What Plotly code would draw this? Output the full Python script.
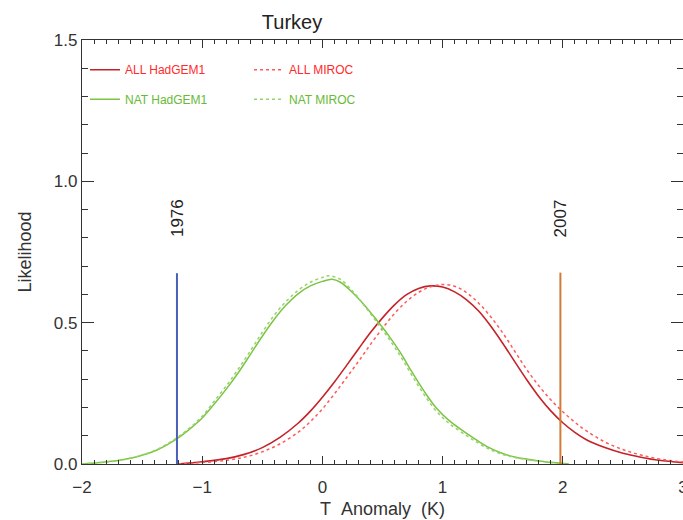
import plotly.graph_objects as go

# ---------------- data ----------------
nat_had_x = [-2.0, -1.85, -1.7, -1.6, -1.5, -1.4, -1.3, -1.2, -1.1, -1.0, -0.9, -0.8, -0.7, -0.6, -0.5, -0.4,
             -0.3, -0.2, -0.1, 0.0, 0.08, 0.15, 0.25, 0.35, 0.45, 0.55, 0.65, 0.75, 0.85, 0.95, 1.05,
             1.2, 1.3, 1.4, 1.5, 1.6, 1.8, 1.95, 2.05]
nat_had_y = [0.0, 0.005, 0.012, 0.02, 0.031, 0.045, 0.066, 0.092, 0.125, 0.163, 0.212, 0.265, 0.323, 0.387, 0.452,
             0.512, 0.563, 0.603, 0.63, 0.646, 0.654, 0.643, 0.607, 0.562, 0.51, 0.455, 0.393, 0.322, 0.255, 0.197,
             0.155, 0.108, 0.08, 0.055, 0.037, 0.025, 0.011, 0.004, 0.0]

nat_miroc_x = [-2.0, -1.85, -1.7, -1.6, -1.5, -1.4, -1.3, -1.2, -1.1, -1.0, -0.9, -0.8, -0.7, -0.6, -0.5, -0.4,
               -0.3, -0.2, -0.1, 0.0, 0.05, 0.15, 0.25, 0.35, 0.45, 0.55, 0.65, 0.75, 0.85, 0.95, 1.05,
               1.2, 1.3, 1.4, 1.5, 1.6, 1.8, 1.95, 2.05]
nat_miroc_y = [0.0, 0.005, 0.012, 0.02, 0.032, 0.047, 0.069, 0.096, 0.129, 0.169, 0.222, 0.276, 0.336, 0.4, 0.466,
               0.527, 0.576, 0.615, 0.643, 0.66, 0.666, 0.653, 0.612, 0.56, 0.503, 0.445, 0.381, 0.31, 0.243, 0.186,
               0.145, 0.1, 0.073, 0.05, 0.034, 0.023, 0.01, 0.003, 0.0]

all_had_x = [-1.2, -1.0, -0.8, -0.65, -0.5, -0.35, -0.2, -0.1, 0.0, 0.1, 0.2, 0.3, 0.4, 0.5, 0.6, 0.7, 0.8,
             0.9, 1.0, 1.1, 1.2, 1.3, 1.4, 1.5, 1.6, 1.7, 1.8, 1.9, 2.0, 2.1, 2.2, 2.35, 2.5, 2.65, 2.8, 3.0]
all_had_y = [0.0, 0.008, 0.019, 0.034, 0.058, 0.095, 0.145, 0.187, 0.236, 0.29, 0.348, 0.407, 0.465, 0.517, 0.563,
             0.599, 0.621, 0.63, 0.626, 0.609, 0.581, 0.541, 0.488, 0.427, 0.362, 0.298, 0.239, 0.188, 0.146, 0.112,
             0.085, 0.058, 0.038, 0.024, 0.013, 0.005]

all_miroc_x = [-1.2, -1.0, -0.8, -0.65, -0.5, -0.35, -0.2, -0.1, 0.0, 0.1, 0.2, 0.3, 0.4, 0.5, 0.6, 0.7, 0.8,
               0.9, 1.0, 1.1, 1.2, 1.3, 1.4, 1.5, 1.6, 1.7, 1.8, 1.9, 2.0, 2.1, 2.2, 2.35, 2.5, 2.65, 2.8, 3.0]
all_miroc_y = [0.0, 0.005, 0.013, 0.024, 0.043, 0.072, 0.113, 0.15, 0.195, 0.248, 0.305, 0.363, 0.423, 0.48, 0.532,
               0.575, 0.607, 0.627, 0.635, 0.629, 0.606, 0.569, 0.521, 0.464, 0.399, 0.334, 0.277, 0.227, 0.185, 0.148,
               0.116, 0.078, 0.051, 0.032, 0.018, 0.007]

event_years = ["1976", "2007"]
event_x = [-1.21, 1.98]
event_top = [0.675, 0.677]
event_colors = ["#4a5fb8", "#d27a38"]

x_ticks = [-2, -1, 0, 1, 2, 3]
y_ticks = [0.0, 0.5, 1.0, 1.5]
y_tick_labels = ["0.0", "0.5", "1.0", "1.5"]

# ---------------- figure ----------------
GREEN = "#7cc444"
RED_SOLID = "#c42228"
RED_DOT = "#ff5a5a"
AXIS = "#333333"
FONT = "Liberation Sans, Arial, sans-serif"

fig = go.Figure()

fig.add_trace(go.Scatter(x=all_had_x, y=all_had_y, mode="lines", line=dict(color=RED_SOLID, width=1.6, shape="spline"),
                         name="<span style='color:#ff2a2a'>ALL HadGEM1</span>", legend="legend"))
fig.add_trace(go.Scatter(x=all_miroc_x, y=all_miroc_y, mode="lines",
                         line=dict(color=RED_DOT, width=1.5, dash="dot", shape="spline"),
                         name="<span style='color:#ff2a2a'>ALL MIROC</span>", legend="legend"))
fig.add_trace(go.Scatter(x=nat_had_x, y=nat_had_y, mode="lines", line=dict(color=GREEN, width=1.5, shape="spline"),
                         name="<span style='color:#66bb33'>NAT HadGEM1</span>", legend="legend2"))
fig.add_trace(go.Scatter(x=nat_miroc_x, y=nat_miroc_y, mode="lines",
                         line=dict(color="#94d468", width=1.5, dash="dot", shape="spline"),
                         name="<span style='color:#66bb33'>NAT MIROC</span>", legend="legend2"))

for yr, ex, top, col in zip(event_years, event_x, event_top, event_colors):
    fig.add_trace(go.Scatter(x=[ex, ex], y=[0, top], mode="lines", line=dict(color=col, width=2),
                             showlegend=False, hoverinfo="skip"))
    fig.add_annotation(x=ex, y=0.87, xref="x", yref="y", text=yr, textangle=-90, showarrow=False,
                       font=dict(family=FONT, size=17, color="#222222"), xanchor="center", yanchor="middle")

legend_common = dict(orientation="h", bgcolor="rgba(0,0,0,0)", borderwidth=0,
                     font=dict(family=FONT, size=12), entrywidth=119, entrywidthmode="pixels",
                     xanchor="left", yanchor="middle", itemwidth=30, tracegroupgap=0)

fig.update_layout(
    width=683, height=520,
    margin=dict(l=82, r=0, t=40, b=56, autoexpand=False),
    paper_bgcolor="white", plot_bgcolor="white",
    font=dict(family=FONT, color=AXIS),
    title=dict(text="Turkey", x=292 / 683, xanchor="center", xref="container",
               y=1 - 22 / 520, yanchor="middle", yref="container",
               font=dict(family=FONT, size=20, color="#222222")),
    legend=dict(**legend_common, x=0.005, y=0.93),
    legend2=dict(**legend_common, x=0.005, y=0.86),
    xaxis=dict(range=[-2, 3], tickvals=x_ticks, ticks="inside", ticklen=8, tickwidth=1, tickcolor=AXIS,
               minor=dict(dtick=0.1, ticklen=4, ticks="inside", tickcolor=AXIS, tickwidth=1),
               showline=True, linecolor=AXIS, linewidth=1.2, mirror="allticks", showgrid=False, zeroline=False,
               ticklabeloverflow="allow", ticklabelstandoff=7, automargin=False,
               tickfont=dict(family=FONT, size=17, color="#333333"),
               title=dict(text="T\u00a0\u00a0Anomaly\u00a0\u00a0(K)", font=dict(family=FONT, size=18, color="#333333"), standoff=6)),
    yaxis=dict(range=[0, 1.5], tickvals=y_ticks, ticktext=y_tick_labels, ticks="inside", ticklen=12, tickwidth=1,
               tickcolor=AXIS, automargin=False,
               minor=dict(dtick=0.1, ticklen=6, ticks="inside", tickcolor=AXIS, tickwidth=1),
               showline=True, linecolor=AXIS, linewidth=1.2, mirror="allticks", showgrid=False, zeroline=False,
               tickfont=dict(family=FONT, size=17, color="#333333"),
               title=dict(text="Likelihood", font=dict(family=FONT, size=18, color="#333333"), standoff=17)),
)

fig.write_html("out.html")
